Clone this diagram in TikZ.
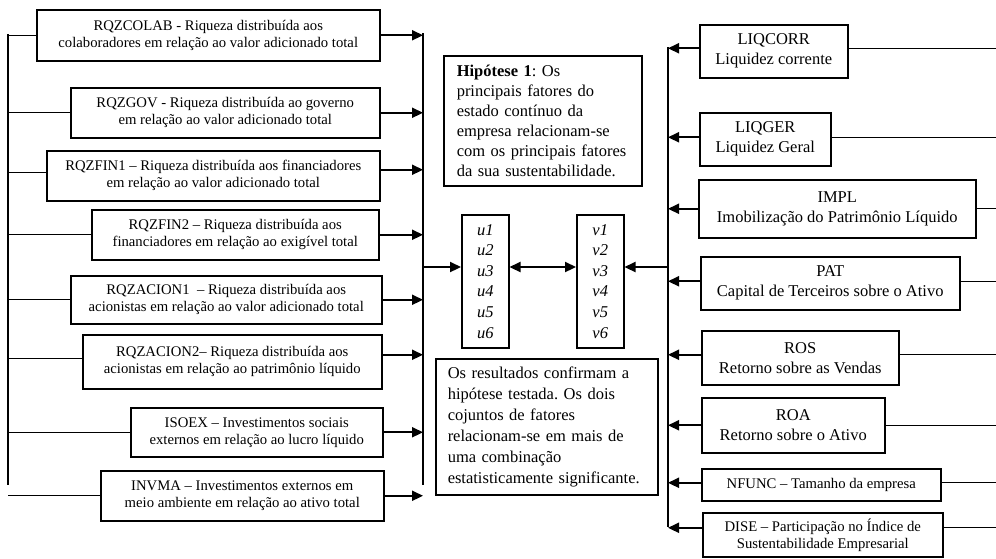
\documentclass[tikz,border=0pt]{standalone}
\usepackage{fontspec}
\setmainfont{Liberation Serif}
\usetikzlibrary{arrows.meta}
\frenchspacing
\begin{document}
\frenchspacing
\begin{tikzpicture}[x=1pt,y=-1pt,
  box/.style={draw, line width=1.5pt, inner sep=0pt, align=center, anchor=north west},
  smallf/.style={font=\fontsize{14.7}{17}\selectfont},
  bigf/.style={font=\fontsize{16.5}{20}\selectfont},
  arr/.style={line width=2.2pt, -{Triangle[length=11pt,width=10pt]}},
  darr/.style={line width=2.2pt, {Triangle[length=11pt,width=10pt]}-{Triangle[length=11pt,width=10pt]}},
  thinl/.style={line width=1.2pt}]
\useasboundingbox (0,0) rectangle (996,558);

% left boxes
\node[box,smallf,minimum width=343pt,minimum height=51pt] (b1) at (36,9) {RQZCOLAB - Riqueza distribuída aos\\colaboradores em relação ao valor adicionado total};
\node[box,smallf,minimum width=309pt,minimum height=50pt] (b2) at (70,87) {RQZGOV - Riqueza distribuída ao governo\\em relação ao valor adicionado total};
\node[box,smallf,minimum width=333pt,minimum height=50pt] (b3) at (46,150) {RQZFIN1 – Riqueza distribuída aos financiadores\\em relação ao valor adicionado total};
\node[box,smallf,minimum width=287pt,minimum height=50pt] (b4) at (91,209) {RQZFIN2 – Riqueza distribuída aos\\financiadores em relação ao exigível total};
\node[box,smallf,minimum width=311pt,minimum height=48pt] (b5) at (70,275) {RQZACION1 \ – Riqueza distribuída aos\\acionistas em relação ao valor adicionado total};
\node[box,smallf,minimum width=299pt,minimum height=54pt] (b6) at (82,334) {RQZACION2– Riqueza distribuída aos\\acionistas em relação ao patrimônio líquido};
\node[box,smallf,minimum width=252pt,minimum height=49pt] (b7) at (130,407) {ISOEX – Investimentos sociais\\externos em relação ao lucro líquido};
\node[box,smallf,minimum width=283pt,minimum height=50pt] (b8) at (100,470) {INVMA – Investimentos externos em\\meio ambiente em relação ao ativo total};

% buses
\coordinate (LT) at (8,34);
\coordinate (LB) at (8,485);
\coordinate (MT) at (423,33);
\coordinate (MB) at (423,485);
\coordinate (RT) at (668,47);
\coordinate (RB) at (668,527);
\coordinate (RE) at (996,0);
\draw[thinl] (LT) -- (LB);
\draw[thinl] (MT) -- (MB);
\draw[thinl] (RT) -- (RB);

\foreach \b in {b1,b2,b4,b5,b7,b8} {
  \draw[thinl] (\b.west -| LT) -- (\b.west);
  \draw[arr] (\b.east) -- (\b.east -| MT);
}
\draw[thinl] ([yshift=3pt]b3.west -| LT) -- ([yshift=3pt]b3.west);
\draw[arr] ([yshift=6pt]b3.east) -- ([yshift=6pt]b3.east -| MT);
\draw[thinl] ([yshift=3pt]b6.west -| LT) -- ([yshift=3pt]b6.west);
\draw[arr] ([yshift=7pt]b6.east) -- ([yshift=7pt]b6.east -| MT);

% middle
\node[box,bigf,minimum width=198pt,minimum height=130pt,text width=172pt,align=left] (hyp) at (443,55)
 {\textbf{Hipótese 1}: Os\\principais fatores do\\estado contínuo da\\empresa relacionam-se\\com os principais fatores\\da sua sustentabilidade.};
\node[box,font=\fontsize{16.5}{20.6}\selectfont\itshape,minimum width=47pt,minimum height=133pt] (u) at (461,214)
 {u1\\u2\\u3\\u4\\u5\\u6};
\node[box,font=\fontsize{16.5}{20.6}\selectfont\itshape,minimum width=47pt,minimum height=133pt] (v) at (576,214)
 {v1\\v2\\v3\\v4\\v5\\v6};
\node[box,font=\fontsize{16.5}{20.9}\selectfont,minimum width=222pt,minimum height=136pt,text width=198pt,align=left] (res) at (435,358)
 {Os resultados confirmam a\\hipótese testada. Os dois\\cojuntos de fatores\\relacionam-se em mais de\\uma combinação\\estatisticamente significante.};

\coordinate (ua) at (423,267);
\coordinate (va) at (668,267);
\draw[arr] (ua) -- (ua -| u.west);
\draw[darr] (ua -| u.east) -- (ua -| v.west);
\draw[arr] (va) -- (va -| v.east);

% right boxes
\node[box,bigf,minimum width=148pt,minimum height=53pt] (r1) at (699,24) {LIQCORR\\Liquidez corrente};
\node[box,bigf,minimum width=131pt,minimum height=53pt] (r2) at (699,112) {LIQGER\\Liquidez Geral};
\node[box,bigf,minimum width=277pt,minimum height=58pt] (r3) at (698,179) {IMPL\\Imobilização do Patrimônio Líquido};
\node[box,bigf,minimum width=259pt,minimum height=53pt] (r4) at (700,256) {PAT\\Capital de Terceiros sobre o Ativo};
\node[box,bigf,minimum width=197pt,minimum height=54pt] (r5) at (701,330) {ROS\\Retorno sobre as Vendas};
\node[box,bigf,minimum width=183pt,minimum height=55pt] (r6) at (701,397) {ROA\\Retorno sobre o Ativo};
\node[box,smallf,minimum width=239pt,minimum height=32pt] (r7) at (701,468) {NFUNC – Tamanho da empresa};
\node[box,smallf,minimum width=240pt,minimum height=44pt] (r8) at (702,512) {DISE – Participação no Índice de\\Sustentabilidade Empresarial};

\foreach \r/\s in {r1/3,r2/2,r3/0,r4/2,r5/3,r6/0,r7/2,r8/7} {
  \draw[arr] ([yshift=\s pt]\r.west) -- ([yshift=\s pt]\r.west -| RT);
  \draw[thinl] ([yshift=\s pt]\r.east) -- ([yshift=\s pt]\r.east -| RE);
}
\end{tikzpicture}
\end{document}
